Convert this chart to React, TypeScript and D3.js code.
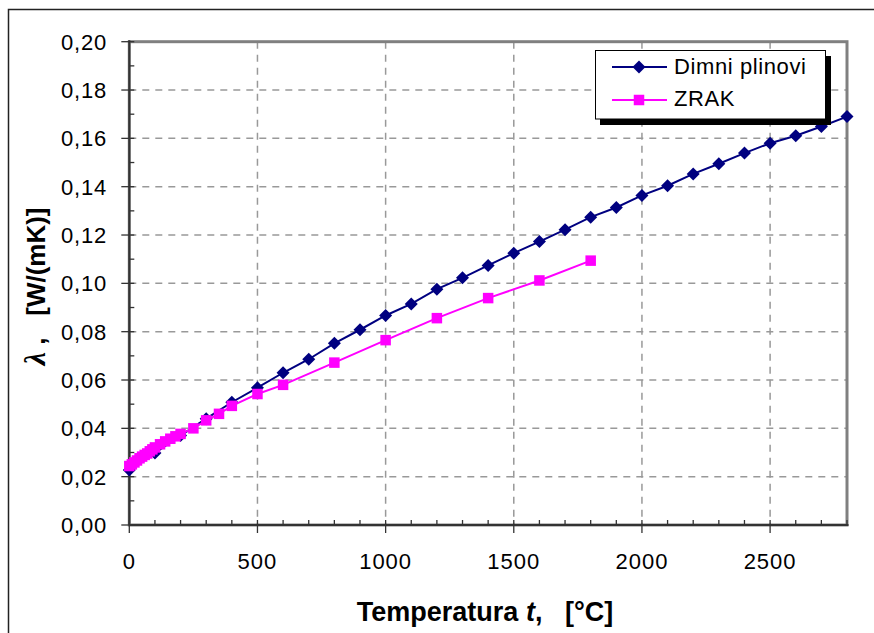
import React from "react";
import * as d3 from "d3";

const dimniT = [0,100,200,300,400,500,600,700,800,900,1000,1100,1200,1300,1400,1500,1600,1700,1800,1900,2000,2100,2200,2300,2400,2500,2600,2700,2800];
const dimniL = [0.0228,0.0298,0.0370,0.0440,0.0508,0.0568,0.0630,0.0686,0.0752,0.0808,0.0867,0.0915,0.0976,0.1023,0.1074,0.1125,0.1173,0.1222,0.1274,0.1314,0.1364,0.1404,0.1453,0.1495,0.1539,0.1580,0.1611,0.1649,0.1690];

const zrakT = [0,10,20,30,40,50,60,70,80,90,100,120,140,160,180,200,250,300,350,400,500,600,800,1000,1200,1400,1600,1800];
const zrakL = [0.0244,0.0251,0.0259,0.0267,0.0276,0.0283,0.0290,0.0296,0.0305,0.0313,0.0321,0.0334,0.0346,0.0357,0.0367,0.0377,0.0400,0.0433,0.0460,0.0493,0.0542,0.0580,0.0672,0.0765,0.0856,0.0939,0.1012,0.1094];

const xTicks = [0,500,1000,1500,2000,2500];
const yTicks = [0,0.02,0.04,0.06,0.08,0.10,0.12,0.14,0.16,0.18,0.20];
const seriesNames = ["Dimni plinovi","ZRAK"];

const W = 874, H = 633;
const L = 129.3, R = 847, T = 41.7, B = 525;

export default function App() {
  const x = d3.scaleLinear().domain([0, 2800]).range([L, R]);
  const y = d3.scaleLinear().domain([0, 0.2]).range([B, T]);
  const dimni = dimniT.map((t, i) => [t, dimniL[i]] as [number, number]);
  const zrak = zrakT.map((t, i) => [t, zrakL[i]] as [number, number]);
  const line = d3.line<[number, number]>().x(d => x(d[0])).y(d => y(d[1]));
  const xMinor = d3.range(0, 2801, 100);
  const yMinor = d3.range(0, 0.2001, 0.01);
  const fmt = (v: number) => v.toFixed(2).replace(".", ",");
  const diamond = (cx: number, cy: number, r = 6.5) => `M${cx},${cy - r}L${cx + r},${cy}L${cx},${cy + r}L${cx - r},${cy}Z`;
  const sq = 10.5;
  const font = "'Liberation Sans', Arial, sans-serif";

  return (
    <svg width={W} height={H} style={{ position: "absolute", left: 0, top: 0, background: "#fff" }} fontFamily={font}>
      <rect x={8.5} y={9.5} width={900} height={700} fill="#fff" stroke="#222" strokeWidth={1.5} />
      {/* grid */}
      {yTicks.slice(1, -1).map(v => (
        <line key={"gy" + v} x1={L} x2={R} y1={y(v)} y2={y(v)} stroke="#999" strokeWidth={1.5} strokeDasharray="7,6" />
      ))}
      {xTicks.slice(1).map(v => (
        <line key={"gx" + v} x1={x(v)} x2={x(v)} y1={T} y2={B} stroke="#999" strokeWidth={1.5} strokeDasharray="7,6" />
      ))}
      {/* plot border */}
      <rect x={L} y={T} width={R - L} height={B - T} fill="none" stroke="#808080" strokeWidth={3} />
      <line x1={L} x2={L} y1={T - 1.5} y2={B} stroke="#333" strokeWidth={2} />
      <line x1={L} x2={R + 1.5} y1={B} y2={B} stroke="#333" strokeWidth={2} />
      {/* ticks */}
      {yMinor.map((v, i) => (
        <line key={"ym" + i} x1={i % 2 === 0 ? L - 8 : L} x2={L + 5} y1={y(v)} y2={y(v)} stroke="#333" strokeWidth={1.3} />
      ))}
      {xMinor.map((v, i) => (
        <line key={"xm" + i} x1={x(v)} x2={x(v)} y1={B - 5} y2={i % 5 === 0 ? B + 8 : B} stroke="#333" strokeWidth={1.3} />
      ))}
      {yTicks.map(v => (
        <text key={"yl" + v} x={107} y={y(v)} dy="0.36em" textAnchor="end" fontSize={22} letterSpacing={0.8}>{fmt(v)}</text>
      ))}
      {xTicks.map(v => (
        <text key={"xl" + v} x={x(v)} y={569} textAnchor="middle" fontSize={22} letterSpacing={1}>{v}</text>
      ))}
      {/* series */}
      <path d={line(dimni) || ""} fill="none" stroke="#000080" strokeWidth={2} />
      {dimni.map((d, i) => (
        <path key={"dd" + i} d={diamond(x(d[0]), y(d[1]))} fill="#000080" />
      ))}
      <path d={line(zrak) || ""} fill="none" stroke="#FF00FF" strokeWidth={2} />
      {zrak.map((d, i) => (
        <rect key={"zs" + i} x={x(d[0]) - sq / 2} y={y(d[1]) - sq / 2} width={sq} height={sq} fill="#FF00FF" />
      ))}
      {/* legend */}
      <rect x={600} y={56} width={231} height={69} fill="#000" />
      <rect x={595.5} y={50.5} width={230} height={68.5} fill="#fff" stroke="#000" strokeWidth={1} />
      <line x1={612} x2={667} y1={67} y2={67} stroke="#000080" strokeWidth={2} />
      <path d={diamond(639, 67)} fill="#000080" />
      <text x={674} y={74} fontSize={22} letterSpacing={0.6}>{seriesNames[0]}</text>
      <line x1={612} x2={667} y1={100} y2={100} stroke="#FF00FF" strokeWidth={2} />
      <rect x={639 - sq / 2} y={100 - sq / 2} width={sq} height={sq} fill="#FF00FF" />
      <text x={674} y={105.5} fontSize={22} letterSpacing={0.6}>{seriesNames[1]}</text>
      {/* axis titles */}
      <text x={485} y={621} textAnchor="middle" fontSize={27} fontWeight="bold">
        Temperatura <tspan fontStyle="italic">t</tspan>,{"\u00A0\u00A0 "}[°C]
      </text>
      <text transform={`translate(45,${(T + B) / 2 + 3}) rotate(-90)`} textAnchor="middle" fontSize={26} fontWeight="bold">
        <tspan fontFamily="'Liberation Serif', 'Times New Roman', serif" fontStyle="italic" fontWeight="bold" fontSize={30}>λ</tspan>
        <tspan> ,{"\u00A0\u00A0 "}[W/(mK)]</tspan>
      </text>
    </svg>
  );
}
